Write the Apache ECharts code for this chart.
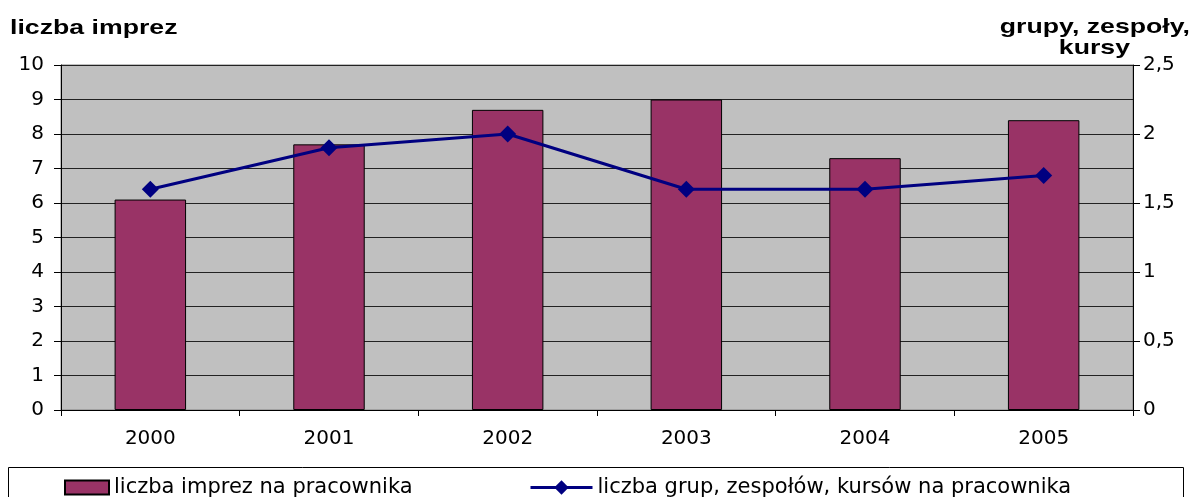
<!DOCTYPE html>
<html lang="pl">
<head>
    <meta charset="UTF-8">
    <title>liczba imprez</title>
    <script src="https://cdn.jsdelivr.net/npm/echarts@6/dist/echarts.min.js"></script>
    <style>
        body { margin: 0; background: #fff; }
        .box { width: 1195px; height: 497px; }
    </style>
</head>
<body>
<div id="show_echarts" class="box"></div>
<script>
    var years = ['2000', '2001', '2002', '2003', '2004', '2005']
    var imprezy = [6.1, 7.7, 8.7, 9.0, 7.3, 8.4]
    var grupy = [1.6, 1.9, 2.0, 1.6, 1.6, 1.7]
    var barName = 'liczba imprez na pracownika'
    var lineName = 'liczba grup, zespołów, kursów na pracownika'

    var font = 'DejaVu Sans, Verdana, sans-serif'
    var boldFont = 'bold 21px Liberation Sans, Arial, sans-serif'

    // tytuly osi - rozciagniete w poziomie jak w oryginale
    function title(txt, x, y, align){
        return {
            type: 'text', x: x, y: y, scaleX: 1.27,
            style: { text: txt, x: 0, y: 0, font: boldFont, fill: '#000',
                     align: align, verticalAlign: 'top' }
        }
    }

    function show(){
        var myChart = echarts.init(document.querySelector(".box"));
        var option = {
            animation: false,
            textStyle: { fontFamily: font },
            grid: {
                left: 61, right: 62, top: 65, bottom: 87,
                show: true,
                backgroundColor: '#C0C0C0',
                borderColor: '#808080',
                borderWidth: 1
            },
            graphic: [
                title('liczba imprez', 10, 18, 'left'),
                title('grupy, zespoły,', 1190, 17, 'right'),
                title('kursy', 1130, 38, 'right'),
                {
                    type: 'rect', left: 8, top: 467,
                    shape: { width: 1175, height: 40 },
                    style: { fill: '#fff', stroke: '#000', lineWidth: 1 },
                    z: -1
                }
            ],
            legend: [
                {
                    top: 472,
                    left: 59,
                    itemWidth: 44,
                    itemHeight: 14,
                    itemGap: 6,
                    textStyle: { fontSize: 21, color: '#000', fontFamily: font },
                    data: [{ name: barName, icon: 'rect' }]
                },
                {
                    top: 472,
                    left: 524,
                    itemWidth: 62,
                    itemHeight: 18,
                    textStyle: { fontSize: 21, color: '#000', fontFamily: font },
                    lineStyle: { width: 3 },
                    data: [{ name: lineName }]
                }
            ],
            xAxis: {
                type: 'category',
                data: years,
                boundaryGap: true,
                axisLine: { lineStyle: { color: '#000', width: 1 } },
                axisTick: { show: true, length: 6, lineStyle: { color: '#000' } },
                axisLabel: { fontSize: 20, color: '#000', margin: 19 }
            },
            yAxis: [
                {
                    type: 'value',
                    min: 0, max: 10, interval: 1,
                    axisLine: { show: true, lineStyle: { color: '#000' } },
                    axisTick: { show: true, length: 7, lineStyle: { color: '#000' } },
                    axisLabel: { fontSize: 20, color: '#000', margin: 17 },
                    splitLine: { show: true, lineStyle: { color: '#222', width: 1 } }
                },
                {
                    type: 'value',
                    min: 0, max: 2.5, interval: 0.5,
                    position: 'right',
                    axisLine: { show: true, lineStyle: { color: '#000' } },
                    axisTick: { show: true, length: 7, lineStyle: { color: '#000' } },
                    axisLabel: {
                        fontSize: 20, color: '#000', margin: 10,
                        formatter: function (v) { return String(v).replace('.', ',') }
                    },
                    splitLine: { show: false }
                }
            ],
            series: [
                {
                    name: barName,
                    type: 'bar',
                    data: imprezy,
                    barWidth: '40%',
                    itemStyle: { color: '#993366', borderColor: '#000', borderWidth: 1 }
                },
                {
                    name: lineName,
                    type: 'line',
                    yAxisIndex: 1,
                    data: grupy,
                    symbol: 'diamond',
                    symbolSize: 17,
                    itemStyle: { color: '#000080' },
                    lineStyle: { color: '#000080', width: 3 }
                }
            ]
        };
        myChart.setOption(option);
    }
    show()
</script>
</body>
</html>
